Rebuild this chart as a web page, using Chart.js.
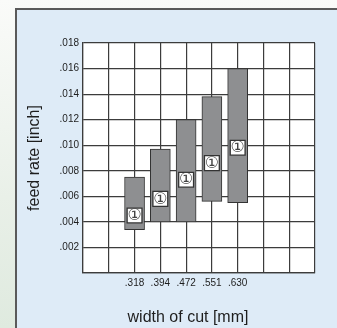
<!DOCTYPE html>
<html>
<head>
<meta charset="utf-8">
<title>Feed rate by width of cut</title>
<script src="https://cdn.jsdelivr.net/npm/chart.js@4/dist/chart.umd.min.js"></script>
<style>
  html, body { margin: 0; padding: 0; }
  body {
    width: 337px; height: 328px; overflow: hidden; position: relative;
    background: linear-gradient(to bottom, #fafbf9 0%, #e9f0e8 60%, #dfeadf 100%);
    font-family: "Liberation Sans", Arial, sans-serif;
  }
  #panel {
    position: absolute; left: 15px; top: 8px; width: 340px; height: 340px;
    background: #deebf7;
    border-top: 2px solid #5a5a5a; border-left: 2px solid #5a5a5a;
  }
  #wrap { position: absolute; left: 0; top: 0; width: 337px; height: 328px; }
</style>
</head>
<body>
<div id="panel"></div>
<div id="wrap"><canvas id="chart" width="337" height="328"></canvas></div>
<script>
// Width of cut categories and the feed rate range for each
const widths = ['.318', '.394', '.472', '.551', '.630'];
const feedMin = [0.0034, 0.0040, 0.0040, 0.0056, 0.0055];
const feedMax = [0.0075, 0.0097, 0.0120, 0.0138, 0.0160];
// Recommended starting feed rate, marked with ①
const feedStart = [0.0045, 0.0058, 0.0073, 0.0086, 0.0098];
// Y-axis tick labels, from 0 up to .018
const feedTickLabels = ['', '.002', '.004', '.006', '.008', '.010', '.012', '.014', '.016', '.018'];

// Empty grid columns before and after the labelled widths
const blankBefore = 2;
const blankAfter = 3;
const pad = (arr) => [
  ...Array(blankBefore).fill(null), ...arr, ...Array(blankAfter).fill(null)
];

const labels = pad(widths).map(v => v === null ? '' : v);
const ranges = pad(widths.map((_, i) => [feedMin[i], feedMax[i]]));
const starts = pad(feedStart);

const gridColor = '#3c3c3c';
const textColor = '#1e1e1e';
const family = '"Liberation Sans", Arial, Helvetica, sans-serif';

// White plotting area behind the grid
const plotBackground = {
  id: 'plotBackground',
  beforeDraw(chart) {
    const { ctx, chartArea: a } = chart;
    ctx.save();
    ctx.fillStyle = '#ffffff';
    ctx.fillRect(a.left, a.top, a.right - a.left, a.bottom - a.top);
    ctx.restore();
  }
};

// Circled numeral inside each start marker
const startGlyphs = {
  id: 'startGlyphs',
  afterDatasetsDraw(chart) {
    const { ctx } = chart;
    const meta = chart.getDatasetMeta(1);
    ctx.save();
    ctx.fillStyle = '#444444';
    ctx.font = '16px "DejaVu Sans", "Noto Sans CJK JP", sans-serif';
    ctx.textAlign = 'center';
    ctx.textBaseline = 'middle';
    meta.data.forEach((pt, i) => {
      if (starts[i] === null || pt.skip) return;
      ctx.fillText('\u2460', pt.x, pt.y + 0.5);
    });
    ctx.restore();
  }
};

// Caption under the width labels
const widthCaption = {
  id: 'widthCaption',
  afterDraw(chart) {
    const { ctx, chartArea: a } = chart;
    ctx.save();
    ctx.fillStyle = textColor;
    ctx.font = '16px ' + family;
    ctx.textAlign = 'center';
    ctx.textBaseline = 'middle';
    ctx.fillText('width of cut [mm]', (a.left + a.right) / 2 - 11, 318);
    ctx.restore();
  }
};

new Chart(document.getElementById('chart'), {
  type: 'bar',
  data: {
    labels,
    datasets: [
      {
        type: 'bar',
        data: ranges,
        backgroundColor: '#8e8f91',
        borderColor: '#333333',
        borderWidth: 1,
        borderSkipped: false,
        barThickness: 20,
        order: 2
      },
      {
        type: 'line',
        data: starts,
        showLine: false,
        pointStyle: 'rect',
        pointRadius: 10.5,
        pointBackgroundColor: '#ffffff',
        pointBorderColor: '#333333',
        pointBorderWidth: 1.3,
        order: 1
      }
    ]
  },
  options: {
    responsive: false,
    animation: false,
    events: [],
    layout: { padding: { left: 20, right: 22, top: 43, bottom: 0 } },
    plugins: { legend: { display: false }, tooltip: { enabled: false } },
    scales: {
      x: {
        type: 'category',
        offset: false,
        grid: { offset: false, color: gridColor, lineWidth: 1.2, drawTicks: false },
        border: { color: gridColor, width: 1.2 },
        ticks: {
          autoSkip: false, maxRotation: 0, padding: 4,
          color: textColor, font: { family, size: 10 }
        },
        afterFit(scale) { scale.height = 55; }
      },
      y: {
        min: 0,
        max: 0.018,
        grid: { color: gridColor, lineWidth: 1.2, drawTicks: false },
        border: { color: gridColor, width: 1.2 },
        ticks: {
          stepSize: 0.002, padding: 4,
          color: textColor, font: { family, size: 10 },
          callback: (v, i) => feedTickLabels[i]
        },
        title: {
          display: true,
          text: 'feed rate [inch]',
          color: textColor,
          font: { family, size: 16 },
          padding: { top: 5, bottom: 0 }
        },
        afterFit(scale) { scale.width = 63; }
      }
    }
  },
  plugins: [plotBackground, startGlyphs, widthCaption]
});
</script>
</body>
</html>
